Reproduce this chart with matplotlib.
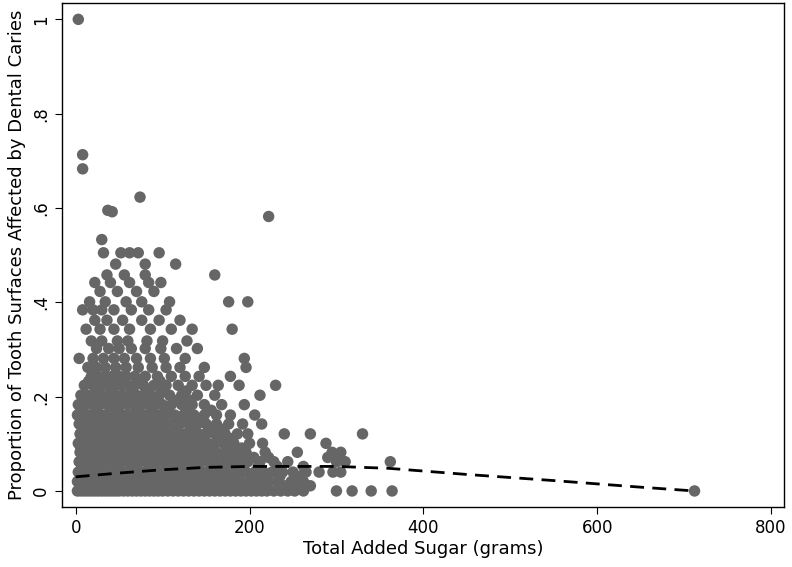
import matplotlib
matplotlib.use("Agg")
import matplotlib.pyplot as plt

# scatter rows: (caries level, added sugar values)
ROWS = [
    (0.000, [2, 6, 10, 14, 18, 22, 26, 30, 34, 38, 42, 46, 50, 55, 60, 65, 70, 75, 80, 85, 90, 95, 100, 106, 112,
             118, 124, 130, 136, 142, 148, 154, 160, 166, 172, 178, 184, 190, 196, 202, 208, 214, 220, 228, 236,
             244, 252, 262, 300, 318, 340, 364, 712]),
    (0.011, [5, 12, 19, 27, 35, 43, 51, 59, 67, 75, 83, 91, 99, 107, 115, 125, 135, 145, 155, 167, 179, 193, 205,
             218, 240, 256, 270]),
    (0.020, [2, 8, 14, 20, 26, 32, 38, 44, 50, 56, 62, 68, 74, 80, 86, 92, 98, 104, 110, 116, 122, 128, 134, 140,
             146, 152, 158, 164, 170, 176, 182, 190, 200, 210, 222, 232, 248, 262]),
    (0.031, [6, 13, 21, 29, 36, 48, 57, 64, 77, 84, 96, 106, 113, 126, 139, 148, 161, 174, 185, 203, 219, 235, 258]),
    (0.040, [3, 10, 17, 24, 31, 38, 45, 52, 59, 66, 73, 80, 87, 94, 101, 108, 115, 122, 129, 136, 143, 150, 157,
             164, 172, 180, 188, 196, 206, 216, 226, 238, 250, 265, 280, 296, 305]),
    (0.052, [7, 15, 22, 28, 42, 49, 63, 70, 85, 91, 105, 112, 119, 133, 141, 156, 166, 181, 192, 210, 232, 262]),
    (0.062, [4, 11, 18, 25, 32, 39, 46, 53, 60, 67, 74, 81, 88, 95, 102, 109, 116, 123, 130, 137, 144, 152, 160,
             168, 176, 186, 198, 212, 228, 244, 300, 310, 362]),
    (0.071, [8, 21, 29, 36, 50, 57, 71, 78, 92, 99, 113, 121, 135, 149, 158, 178, 190, 205, 222, 290, 304]),
    (0.082, [5, 12, 19, 26, 33, 40, 47, 54, 61, 68, 75, 82, 89, 96, 103, 110, 117, 124, 131, 138, 146, 154, 162,
             172, 184, 196, 218, 255, 295, 305]),
    (0.091, [6, 14, 27, 34, 41, 55, 62, 76, 83, 97, 104, 118, 125, 140, 157, 175, 191]),
    (0.101, [3, 9, 16, 23, 30, 37, 44, 51, 58, 65, 72, 79, 86, 93, 100, 107, 114, 121, 128, 136, 144, 152, 160,
             170, 182, 200, 215, 288]),
    (0.111, [7, 20, 35, 43, 57, 64, 78, 85, 99, 106, 122, 132, 147, 166, 180]),
    (0.121, [5, 12, 19, 26, 33, 40, 47, 54, 61, 68, 75, 82, 89, 96, 103, 110, 118, 126, 134, 142, 150, 160, 172,
             186, 198, 240, 270, 330]),
    (0.131, [8, 22, 29, 49, 57, 70, 92, 101, 115, 137, 156, 170]),
    (0.142, [4, 11, 18, 25, 32, 39, 46, 53, 60, 67, 74, 81, 88, 96, 104, 112, 120, 130, 140, 150, 162, 176, 192, 214]),
    (0.152, [13, 27, 34, 55, 62, 77, 85, 100, 118, 129, 144]),
    (0.161, [2, 9, 16, 23, 30, 37, 44, 51, 58, 65, 72, 80, 88, 96, 104, 114, 124, 136, 148, 162, 178, 206]),
    (0.171, [6, 24, 40, 49, 70, 88, 106, 128, 156]),
    (0.183, [3, 12, 20, 28, 36, 44, 52, 60, 68, 76, 84, 92, 100, 110, 122, 134, 148, 168, 194]),
    (0.192, [17, 33, 57, 74, 90, 114, 132]),
    (0.203, [6, 14, 22, 30, 38, 46, 54, 62, 70, 78, 86, 96, 108, 122, 140, 160, 212]),
    (0.212, [24, 41, 65, 82, 100, 127]),
    (0.224, [10, 20, 28, 36, 44, 52, 60, 68, 78, 90, 104, 118, 134, 150, 164, 188, 230]),
    (0.233, [15, 31, 56, 73, 97]),
    (0.243, [18, 26, 34, 42, 50, 58, 68, 80, 94, 110, 126, 142, 178]),
    (0.262, [14, 24, 34, 46, 58, 72, 88, 104, 120, 148, 196]),
    (0.281, [4, 20, 32, 44, 56, 70, 86, 102, 126, 194]),
    (0.302, [24, 38, 50, 64, 80, 98, 116, 140]),
    (0.318, [18, 30, 48, 60, 82, 100, 128]),
    (0.343, [12, 28, 44, 62, 86, 110, 134, 180]),
    (0.362, [22, 36, 54, 76, 96, 120]),
    (0.384, [8, 20, 30, 44, 64, 84, 104]),
    (0.401, [16, 34, 58, 76, 108, 176, 198]),
    (0.423, [28, 48, 70, 90]),
    (0.442, [22, 40, 62, 84, 98]),
    (0.458, [36, 56, 80, 160]),
    (0.481, [46, 80, 115]),
    (0.505, [32, 52, 62, 72, 96]),
]
OUT_X = [3, 8, 8, 37, 42, 74, 222, 30]
OUT_Y = [1.0, 0.713, 0.683, 0.595, 0.592, 0.623, 0.582, 0.533]

FIT_X = [0, 50, 100, 150, 200, 250, 300, 360, 450, 550, 650, 712]
FIT_Y = [0.030, 0.038, 0.045, 0.050, 0.052, 0.052, 0.052, 0.048, 0.035, 0.022, 0.008, 0.0]

sugar = [x for _, xs in ROWS for x in xs] + OUT_X
caries = [y for y, xs in ROWS for _ in xs] + OUT_Y

fig, ax = plt.subplots(figsize=(7.92, 5.67), dpi=100)
fig.subplots_adjust(left=0.078, right=0.99, top=0.995, bottom=0.105)
ax.scatter(sugar, caries, s=68, color="#666666", edgecolors="none", zorder=2)
ax.plot(FIT_X, FIT_Y, color="black", lw=2, ls=(0, (5, 3)), zorder=3)

ax.set_xlim(-16, 815)
ax.set_ylim(-0.035, 1.035)
ax.set_xticks([0, 200, 400, 600, 800])
ax.set_yticks([0, 0.2, 0.4, 0.6, 0.8, 1.0])
ax.set_yticklabels(["0", ".2", ".4", ".6", ".8", "1"], rotation=90, va="center")
ax.tick_params(labelsize=12, length=5, color="black")
ax.set_xlabel("Total Added Sugar (grams)", fontsize=13, labelpad=2)
ax.set_ylabel("Proportion of Tooth Surfaces Affected by Dental Caries", fontsize=13, labelpad=4)
for s in ax.spines.values():
    s.set_linewidth(1)

plt.savefig("out.png")
